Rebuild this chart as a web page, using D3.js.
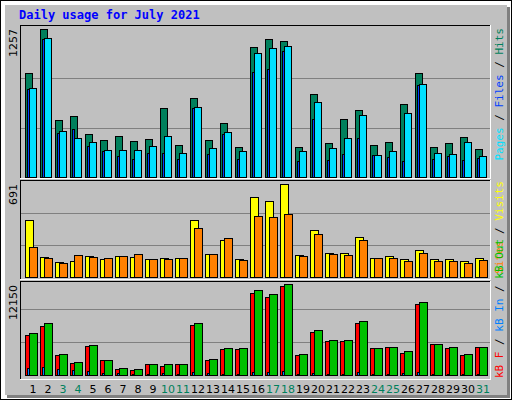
<!DOCTYPE html>
<html>
<head>
<meta charset="utf-8">
<script src="https://cdn.jsdelivr.net/npm/d3@7/dist/d3.min.js"></script>
<style>
  body { margin: 0; background: #fff; }
  text { font-family: "DejaVu Sans", sans-serif; }
</style>
</head>
<body>
<svg id="chart" width="512" height="400"></svg>
<script>
// data
var days = d3.range(1, 32)
var weekend = [3, 4, 10, 11, 17, 18, 24, 25, 31]
var hits  = [883,1257,484,518,365,314,348,306,323,586,272,671,314,458,255,1104,1172,1155,255,705,289,492,569,272,297,620,883,255,289,340,238]
var files = [756,1180,391,331,297,229,229,229,263,348,204,594,246,382,221,1053,1095,1112,221,637,246,331,526,187,221,543,790,204,195,297,178]
var pages = [747,1172,374,408,263,221,178,153,204,204,153,586,195,365,153,891,917,1070,136,492,144,195,331,187,170,136,781,153,178,144,161]
var visits = [410,141,105,112,148,127,148,141,127,134,134,410,163,265,127,577,548,672,156,337,170,170,286,134,148,127,192,127,127,112,134]
var sites  = [214,134,97,156,141,134,148,163,127,127,134,352,163,279,119,439,432,454,148,308,163,156,265,134,134,112,170,112,112,97,119]
var kbF   = [4908,6012,2454,1472,3558,1840,736,613,1350,1104,1350,6135,1840,3190,3190,10061,9571,10920,2454,5276,4172,4172,6380,3313,3436,2699,8712,3804,3313,2454,3436]
var kbIn  = [900,1000,750,600,500,250,250,100,150,300,100,400,300,200,100,400,400,500,100,300,100,100,400,100,100,300,400,100,100,100,100]
var kbOut = [5153,6380,2577,1595,3681,1840,859,736,1350,1350,1350,6380,1963,3313,3313,10430,9939,11166,2577,5522,4295,4295,6626,3313,3436,2945,8957,3804,3436,2577,3436]
var maxHits = 1257, maxVisits = 691, maxKB = 12150

var svg = d3.select("#chart")

// frame
svg.append("rect").attr("x", 0.5).attr("y", 0.5).attr("width", 511).attr("height", 399).attr("fill", "#fff").attr("stroke", "#000")
svg.append("rect").attr("x", 7).attr("y", 7).attr("width", 503).attr("height", 391).attr("fill", "#808080")
svg.append("rect").attr("x", 5).attr("y", 5).attr("width", 502).attr("height", 390).attr("fill", "#c0c0c0")

svg.append("text").attr("x", 19).attr("y", 19)
  .style("font-family", "'DejaVu Sans Mono', monospace").style("font-weight", "bold").style("font-size", "12px")
  .attr("fill", "#0000ff").text("Daily usage for July 2021")

var x = d3.scaleLinear().domain([1, 31]).range([25, 475])

var panels = [
  { top: 25, bottom: 178, base: 177, peak: 29, max: maxHits, label: "1257",
    series: [[hits, 0, 7, "#00805c"], [pages, 2, 2, "#0040ff"], [files, 4, 7, "#00e0ff"]] },
  { top: 180, bottom: 279, base: 276.7, peak: 181.7, max: maxVisits, label: "691",
    series: [[visits, 0, 8, "#ffff00"], [sites, 4, 8, "#ff8000"]] },
  { top: 281, bottom: 379, base: 375.3, peak: 276.3, max: maxKB, label: "12150",
    series: [[kbF, 0, 8, "#ff0000"], [kbOut, 4, 8, "#00c000"], [kbIn, 2, 2, "#0080ff"]] }
]

panels.forEach(function(p) {
  var y = d3.scaleLinear().domain([0, p.max]).range([p.base, p.peak])
  var g = svg.append("g")
  g.append("line").attr("x1", 20).attr("x2", 490).attr("y1", p.top + 0.5).attr("y2", p.top + 0.5).attr("stroke", "#000")
  g.append("line").attr("x1", 20.5).attr("x2", 20.5).attr("y1", p.top).attr("y2", p.bottom).attr("stroke", "#000")
  g.append("line").attr("x1", 20).attr("x2", 491).attr("y1", p.bottom + 0.5).attr("y2", p.bottom + 0.5).attr("stroke", "#fff")
  g.append("line").attr("x1", 490.5).attr("x2", 490.5).attr("y1", p.top).attr("y2", p.bottom).attr("stroke", "#fff")
  ;[1/3, 2/3].forEach(function(f) {
    var yy = Math.round(y(p.max * f)) + 0.5
    g.append("line").attr("x1", 21).attr("x2", 490).attr("y1", yy).attr("y2", yy).attr("stroke", "#808080")
  })
  g.append("text").attr("transform", "translate(17," + (p.top + 4) + ") rotate(-90)")
    .attr("text-anchor", "end").style("font-size", "11px").attr("fill", "#000").text(p.label)
  p.series.forEach(function(s) {
    g.selectAll(null).data(s[0]).enter().append("rect")
      .attr("x", function(d, i) { return x(days[i]) + s[1] + 0.5 })
      .attr("y", function(d) { return Math.round(y(d)) + 0.5 })
      .attr("width", s[2])
      .attr("height", function(d) { return Math.max(0, Math.round(p.base) - Math.round(y(d))) })
      .attr("fill", s[3]).attr("stroke", "#000")
  })
})

// day labels
svg.selectAll(".day").data(days).enter().append("text")
  .attr("x", function(d) { return x(d) + 8 }).attr("y", 393)
  .attr("text-anchor", "middle").style("font-size", "11px")
  .attr("fill", function(d) { return weekend.indexOf(d) >= 0 ? "#00805c" : "#000" })
  .text(function(d) { return d })

// right legends
function legend(parts, tx, ty, anchor) {
  var t = svg.append("text").attr("transform", "translate(" + tx + "," + ty + ") rotate(-90)")
    .attr("text-anchor", anchor).style("font-family", "'DejaVu Sans Mono', monospace").style("font-size", "11px")
  parts.forEach(function(q) { t.append("tspan").attr("fill", q[1]).text(q[0]) })
}
legend([["Pages", "#00e0ff"], [" / ", "#000"], ["Files", "#0040ff"], [" / ", "#000"], ["Hits", "#00805c"]], 503, 28, "end")
legend([["Sites", "#ff8000"], [" / ", "#000"], ["Visits", "#ffff00"]], 503, 181, "end")
legend([["kB F", "#ff0000"], [" / ", "#000"], ["kB In", "#0080ff"], [" / ", "#000"], ["kB Out", "#00c000"]], 503, 378, "start")
</script>
</body>
</html>
